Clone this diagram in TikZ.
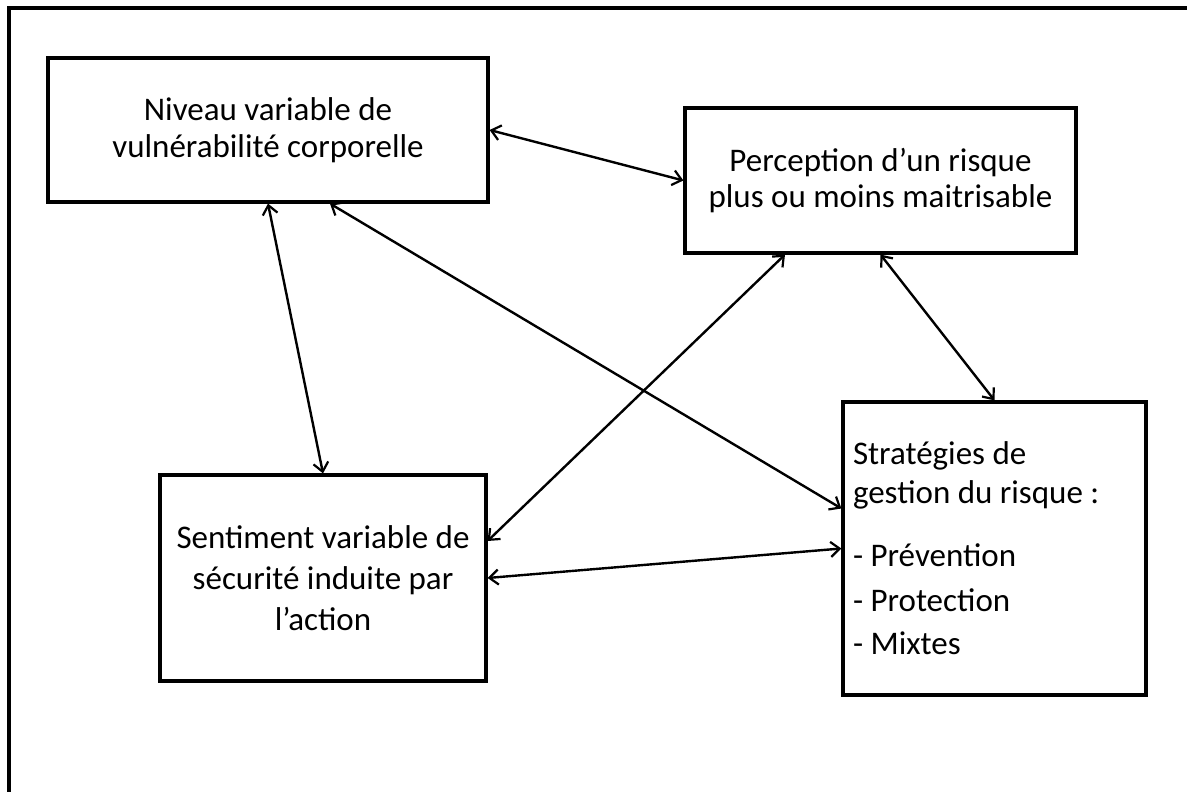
\documentclass[tikz,border=0pt]{standalone}
\usepackage{fontspec}
\setmainfont{Carlito}
\usetikzlibrary{arrows.meta}
\begin{document}
\begin{tikzpicture}[x=1pt,y=1pt,
  box/.style={draw=black, line width=3.2pt, inner sep=0pt, align=center, font=\fontsize{33}{37}\selectfont},
  tip/.style={},
  link/.style={line width=2.4pt, {Straight Barb[length=9pt,width=15pt,line width=2.2pt]}-{Straight Barb[length=9pt,width=15pt,line width=2.2pt]}}]
\useasboundingbox (0,0) rectangle (1187,792);
\draw[line width=3.2pt] (9,-20) -- (9,784) -- (1200,784);
\node[box, minimum width=440pt, minimum height=144pt] (A) at (268,662) {Niveau variable de\\vulnérabilité corporelle};
\node[box, minimum width=391pt, minimum height=145pt, font=\fontsize{33}{36}\selectfont] (B) at (880.5,611.5) {Perception d’un risque\\plus ou moins maitrisable};
\node[box, minimum width=326pt, minimum height=206pt, font=\fontsize{33}{41}\selectfont] (C) at (323,214) {Sentiment variable de\\sécurité induite par\\l’action};
\node[box, minimum width=303pt, minimum height=293pt, align=flush left, text width=283pt, inner xsep=10pt, font=\fontsize{33}{39}\selectfont] (D) at (994.5,243.5) {Stratégies de\\gestion du risque :\\[24pt]- Prévention\\[6pt]- Protection\\[4pt]- Mixtes};
\draw[link] (A.east) -- (B.west);
\draw[link] (A.south) -- (C.north);
\draw[link] ([xshift=62pt]A.south) -- ([yshift=40pt]D.west);
\draw[link] ([xshift=-95.5pt]B.south) -- ([yshift=37pt]C.east);
\draw[link] (B.south) -- (D.north);
\draw[link] (C.east) -- (D.west);
\end{tikzpicture}
\end{document}
